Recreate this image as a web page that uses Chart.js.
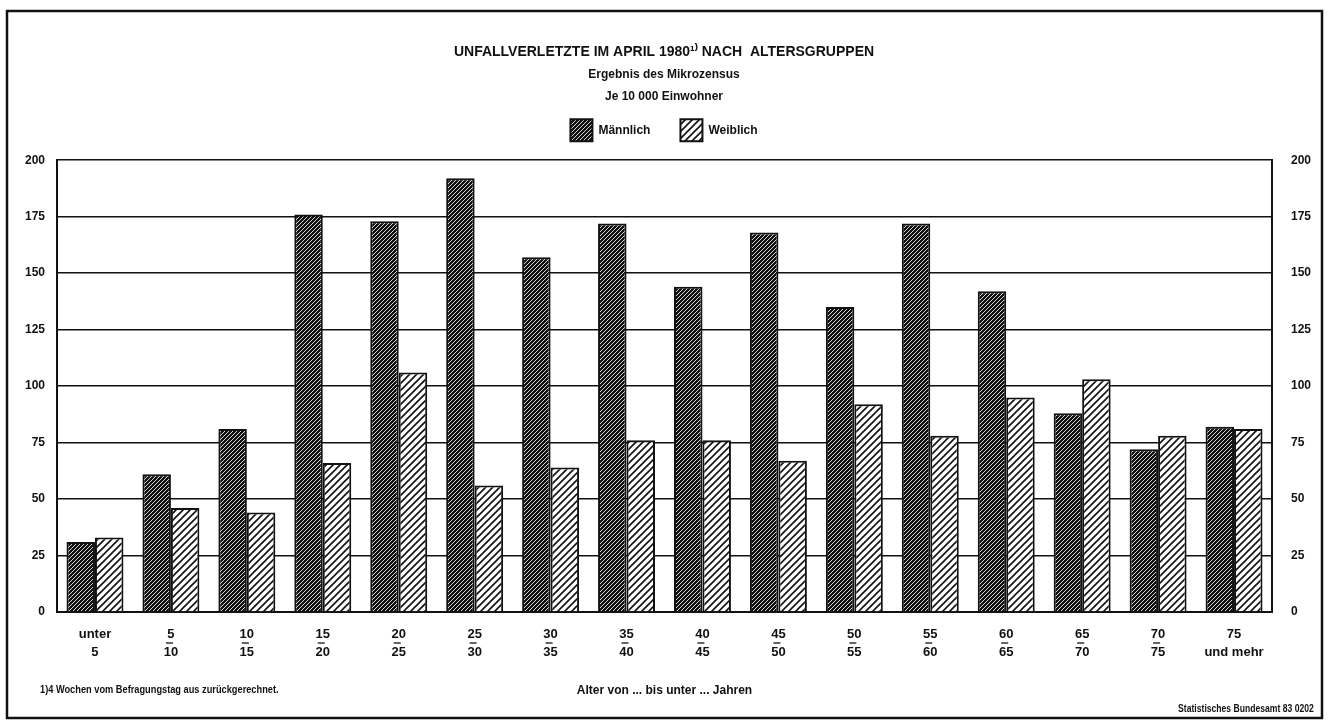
<!DOCTYPE html>
<html lang="de">
<head>
  <meta charset="UTF-8">
  <title>Unfallverletzte im April 1980 nach Altersgruppen</title>
  <script src="https://cdn.jsdelivr.net/npm/chart.js"></script>
  <style>
    body { margin: 0; background: #fff; }
    #wrap { position: relative; width: 1328px; height: 726px; }
    .note { position: absolute; font-family: 'Liberation Sans Narrow', 'Liberation Sans', sans-serif; font-weight: bold; color: #111; white-space: nowrap; }
  </style>
</head>
<body>
  <div id="wrap">
    <canvas id="grafico" width="1328" height="726"></canvas>
    <div class="note" style="left:40px; top:683px; font-size:11px; transform:scaleX(0.84); transform-origin:left top;">1)4 Wochen vom Befragungstag aus zurückgerechnet.</div>
    <div class="note" style="right:14px; top:703px; font-size:10px; transform:scaleX(0.86); transform-origin:right top;">Statistisches Bundesamt 83 0202</div>
  </div>

  <script>
    const altersgruppen = [
      ['unter', '5'], ['5', '10'], ['10', '15'], ['15', '20'], ['20', '25'], ['25', '30'],
      ['30', '35'], ['35', '40'], ['40', '45'], ['45', '50'], ['50', '55'], ['55', '60'],
      ['60', '65'], ['65', '70'], ['70', '75'], ['75', 'und mehr']
    ];
    const maennlich = [31, 61, 81, 176, 173, 192, 157, 172, 144, 168, 135, 172, 142, 88, 72, 82];
    const weiblich  = [33, 46, 44, 66, 106, 56, 64, 76, 76, 67, 92, 78, 95, 103, 78, 81];
    const yTicks = [0, 25, 50, 75, 100, 125, 150, 175, 200];

    const schrift = "'Liberation Sans Narrow', 'Liberation Sans', sans-serif";

    // Schraffur als Canvas-Muster
    function schraffur(grund, strich, abstand, breite) {
      const c = document.createElement('canvas');
      c.width = abstand; c.height = abstand;
      const g = c.getContext('2d');
      g.fillStyle = grund;
      g.fillRect(0, 0, abstand, abstand);
      g.strokeStyle = strich;
      g.lineWidth = breite;
      g.beginPath();
      g.moveTo(0, abstand); g.lineTo(abstand, 0);
      g.moveTo(-1, 1); g.lineTo(1, -1);
      g.moveTo(abstand - 1, abstand + 1); g.lineTo(abstand + 1, abstand - 1);
      g.stroke();
      return g.createPattern(c, 'repeat');
    }

    const rahmen = {
      id: 'rahmen',
      beforeInit(chart) {
        // etwas mehr Luft unter der Legende
        const fit = chart.legend.fit;
        chart.legend.fit = function () { fit.call(this); this.height += 9; };
      },
      beforeDraw(chart) {
        const ctx = chart.ctx;
        ctx.save();
        ctx.fillStyle = '#fff';
        ctx.fillRect(0, 0, chart.width, chart.height);
        ctx.strokeStyle = '#111';
        ctx.lineWidth = 2.5;
        ctx.strokeRect(7, 11, 1315, 707);
        ctx.restore();
      },
      afterDraw(chart) {
        // Strich über der zweiten Zeile ("bis unter")
        const x = chart.scales.x;
        const ctx = chart.ctx;
        ctx.save();
        ctx.strokeStyle = '#111';
        ctx.lineWidth = 1.3;
        for (let i = 1; i < altersgruppen.length - 1; i++) {
          const px = x.getPixelForTick(i);
          ctx.beginPath();
          ctx.moveTo(px - 5, 643);
          ctx.lineTo(px + 2, 643);
          ctx.stroke();
        }
        ctx.restore();
      }
    };

    new Chart(document.getElementById('grafico'), {
      type: 'bar',
      data: {
        labels: altersgruppen,
        datasets: [
          {
            label: 'Männlich',
            data: maennlich,
            backgroundColor: schraffur('#111', '#d8d8d8', 4, 1),
            borderColor: '#111',
            borderWidth: 2
          },
          {
            label: 'Weiblich',
            data: weiblich,
            backgroundColor: schraffur('#fff', '#111', 7, 1.6),
            borderColor: '#111',
            borderWidth: 2
          }
        ]
      },
      options: {
        responsive: false,
        animation: false,
        layout: { padding: { top: 44, left: 0, right: 0, bottom: 28 } },
        datasets: { bar: { categoryPercentage: 0.75, barPercentage: 1.0 } },
        plugins: {
          title: {
            display: true,
            text: 'UNFALLVERLETZTE IM APRIL 1980¹⁾ NACH  ALTERSGRUPPEN',
            color: '#111',
            font: { family: schrift, size: 14, weight: 'bold' },
            padding: { top: 0, bottom: 3 }
          },
          subtitle: {
            display: true,
            text: ['Ergebnis des Mikrozensus', 'Je 10 000 Einwohner'],
            color: '#111',
            font: { family: schrift, size: 12, weight: 'bold', lineHeight: 1.85 },
            padding: { top: 0, bottom: -19 }
          },
          legend: {
            labels: {
              color: '#111',
              boxWidth: 22,
              boxHeight: 22,
              padding: 30,
              font: { family: schrift, size: 12, weight: 'bold' }
            }
          },
          tooltip: { enabled: false }
        },
        scales: {
          x: {
            grid: { display: false },
            border: { color: '#111', width: 2 },
            ticks: {
              color: '#111',
              maxRotation: 0,
              padding: 5,
              font: { family: schrift, size: 13, weight: 'bold', lineHeight: 1.4 }
            },
            title: {
              display: true,
              text: 'Alter von ... bis unter ... Jahren',
              color: '#111',
              font: { family: schrift, size: 12, weight: 'bold' },
              padding: { top: 10, bottom: 0 }
            },
            afterFit: s => { s.height = 86; }
          },
          y: {
            min: 0, max: 200,
            afterBuildTicks: s => { s.ticks = yTicks.map(v => ({ value: v })); },
            grid: { color: '#111', lineWidth: 1.5, drawTicks: false },
            border: { color: '#111', width: 2 },
            ticks: { color: '#111', padding: 12, font: { family: schrift, size: 12, weight: 'bold' } },
            afterFit: s => { s.width = 57; }
          },
          y2: {
            position: 'right',
            min: 0, max: 200,
            afterBuildTicks: s => { s.ticks = yTicks.map(v => ({ value: v })); },
            grid: { display: false },
            border: { color: '#111', width: 2 },
            ticks: { color: '#111', padding: 11, font: { family: schrift, size: 12, weight: 'bold' } },
            afterFit: s => { s.width = 56; }
          }
        }
      },
      plugins: [rahmen]
    });
  </script>
</body>
</html>
